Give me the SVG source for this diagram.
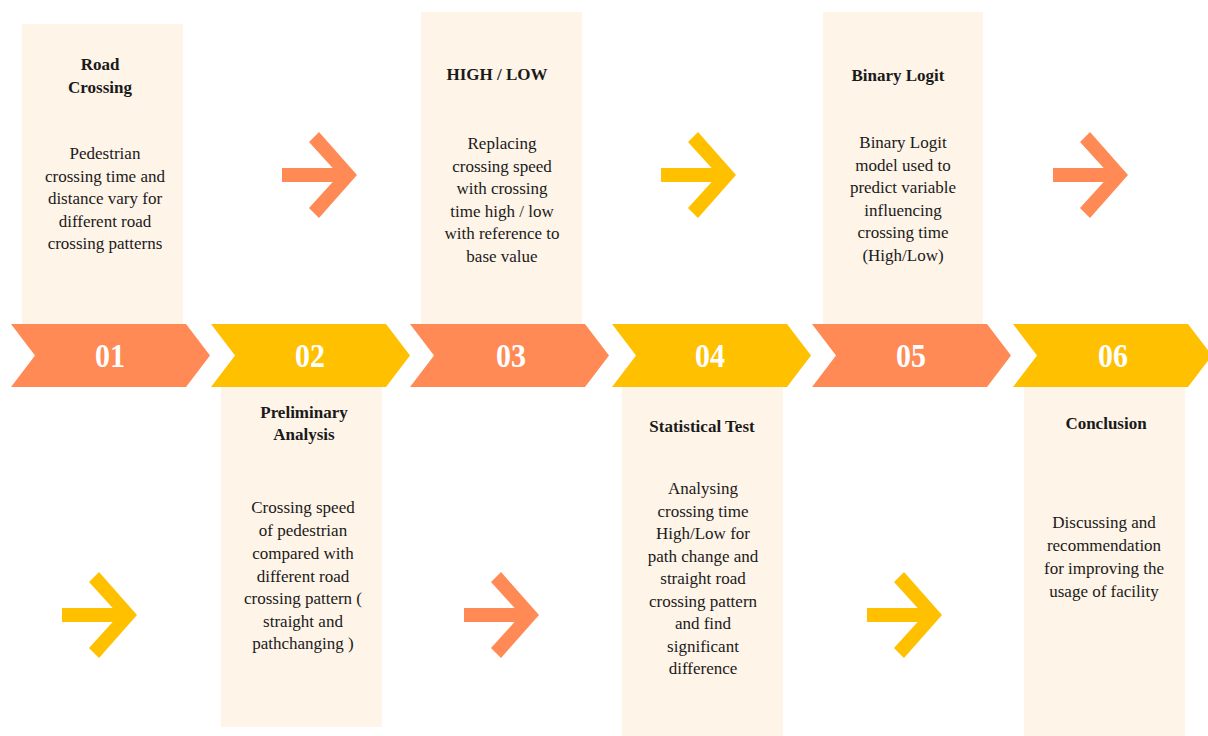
<svg xmlns="http://www.w3.org/2000/svg" xmlns:xlink="http://www.w3.org/1999/xlink" width="1208" height="736" viewBox="0 0 1208 736">
<style>
.box{fill:#FEF4E8}
.org{fill:#FF8A55}
.yel{fill:#FFC000}
.num{font-family:"Liberation Serif","Times New Roman",serif;font-weight:bold;font-size:30px;fill:#FFFFFF;text-anchor:middle}
.ttl{font-family:"Liberation Serif","Times New Roman",serif;font-weight:bold;font-size:17px;fill:#1a1a1a;text-anchor:middle}
.txt{font-family:"Liberation Serif","Times New Roman",serif;font-size:17px;fill:#1a1a1a;text-anchor:middle}
</style>
<defs>
<path id="chev" d="M0,324 L175,324 L199,355.5 L175,387 L0,387 L24,355.5 Z"/>
<path id="arr" d="M0,-7 H59 V7 H0 Z M37,-43 L75,0 L37,43 L27,33 L57,0 L27,-33 Z"/>
</defs>
<rect width="1208" height="736" fill="#FFFFFF"/>

<g id="step1">
<rect class="box" x="22" y="24" width="161" height="300"/>
<text class="ttl" x="100" y="70">Road</text>
<text class="ttl" x="100" y="93">Crossing</text>
<text class="txt" x="105"><tspan x="105" y="159">Pedestrian</tspan><tspan x="105" y="182">crossing time and</tspan><tspan x="105" y="204">distance vary for</tspan><tspan x="105" y="227">different road</tspan><tspan x="105" y="249">crossing patterns</tspan></text>
<use xlink:href="#chev" class="org" x="11"/>
<text class="num" transform="translate(110,367) scale(1,1.15)">01</text>
</g>

<g id="step2">
<rect class="box" x="221" y="387" width="161" height="340"/>
<text class="ttl" x="304" y="418">Preliminary</text>
<text class="ttl" x="304" y="440">Analysis</text>
<text class="txt"><tspan x="303" y="513">Crossing speed</tspan><tspan x="303" y="536">of pedestrian</tspan><tspan x="303" y="559">compared with</tspan><tspan x="303" y="582">different road</tspan><tspan x="303" y="604">crossing pattern (</tspan><tspan x="303" y="627">straight and</tspan><tspan x="303" y="649">pathchanging )</tspan></text>
<use xlink:href="#chev" class="yel" x="211"/>
<text class="num" transform="translate(310,367) scale(1,1.15)">02</text>
</g>

<g id="step3">
<rect class="box" x="421" y="12" width="161" height="312"/>
<text class="ttl" x="497" y="80">HIGH / LOW</text>
<text class="txt"><tspan x="502" y="149">Replacing</tspan><tspan x="502" y="172">crossing speed</tspan><tspan x="502" y="194">with crossing</tspan><tspan x="502" y="217">time high / low</tspan><tspan x="502" y="239">with reference to</tspan><tspan x="502" y="262">base value</tspan></text>
<use xlink:href="#chev" class="org" x="410"/>
<text class="num" transform="translate(511,367) scale(1,1.15)">03</text>
</g>

<g id="step4">
<rect class="box" x="622" y="387" width="161" height="349"/>
<text class="ttl" x="702" y="432">Statistical Test</text>
<text class="txt"><tspan x="703" y="494">Analysing</tspan><tspan x="703" y="517">crossing time</tspan><tspan x="703" y="539">High/Low for</tspan><tspan x="703" y="562">path change and</tspan><tspan x="703" y="584">straight road</tspan><tspan x="703" y="607">crossing pattern</tspan><tspan x="703" y="629">and find</tspan><tspan x="703" y="652">significant</tspan><tspan x="703" y="674">difference</tspan></text>
<use xlink:href="#chev" class="yel" x="612"/>
<text class="num" transform="translate(710,367) scale(1,1.15)">04</text>
</g>

<g id="step5">
<rect class="box" x="823" y="12" width="160" height="312"/>
<text class="ttl" x="898" y="81">Binary Logit</text>
<text class="txt"><tspan x="903" y="148">Binary Logit</tspan><tspan x="903" y="171">model used to</tspan><tspan x="903" y="193">predict variable</tspan><tspan x="903" y="216">influencing</tspan><tspan x="903" y="238">crossing time</tspan><tspan x="903" y="261">(High/Low)</tspan></text>
<use xlink:href="#chev" class="org" x="812"/>
<text class="num" transform="translate(911,367) scale(1,1.15)">05</text>
</g>

<g id="step6">
<rect class="box" x="1024" y="387" width="161" height="349"/>
<text class="ttl" x="1106" y="429">Conclusion</text>
<text class="txt"><tspan x="1104" y="528">Discussing and</tspan><tspan x="1104" y="551">recommendation</tspan><tspan x="1104" y="574">for improving the</tspan><tspan x="1104" y="597">usage of facility</tspan></text>
<use xlink:href="#chev" class="yel" x="1013"/>
<text class="num" transform="translate(1113,367) scale(1,1.15)">06</text>
</g>

<g id="connectors">
<use xlink:href="#arr" class="org" transform="translate(282,175)"/>
<use xlink:href="#arr" class="yel" transform="translate(62,615)"/>
<use xlink:href="#arr" class="yel" transform="translate(661,175)"/>
<use xlink:href="#arr" class="org" transform="translate(464,615)"/>
<use xlink:href="#arr" class="org" transform="translate(1053,175)"/>
<use xlink:href="#arr" class="yel" transform="translate(867,615)"/>
</g>
</svg>
